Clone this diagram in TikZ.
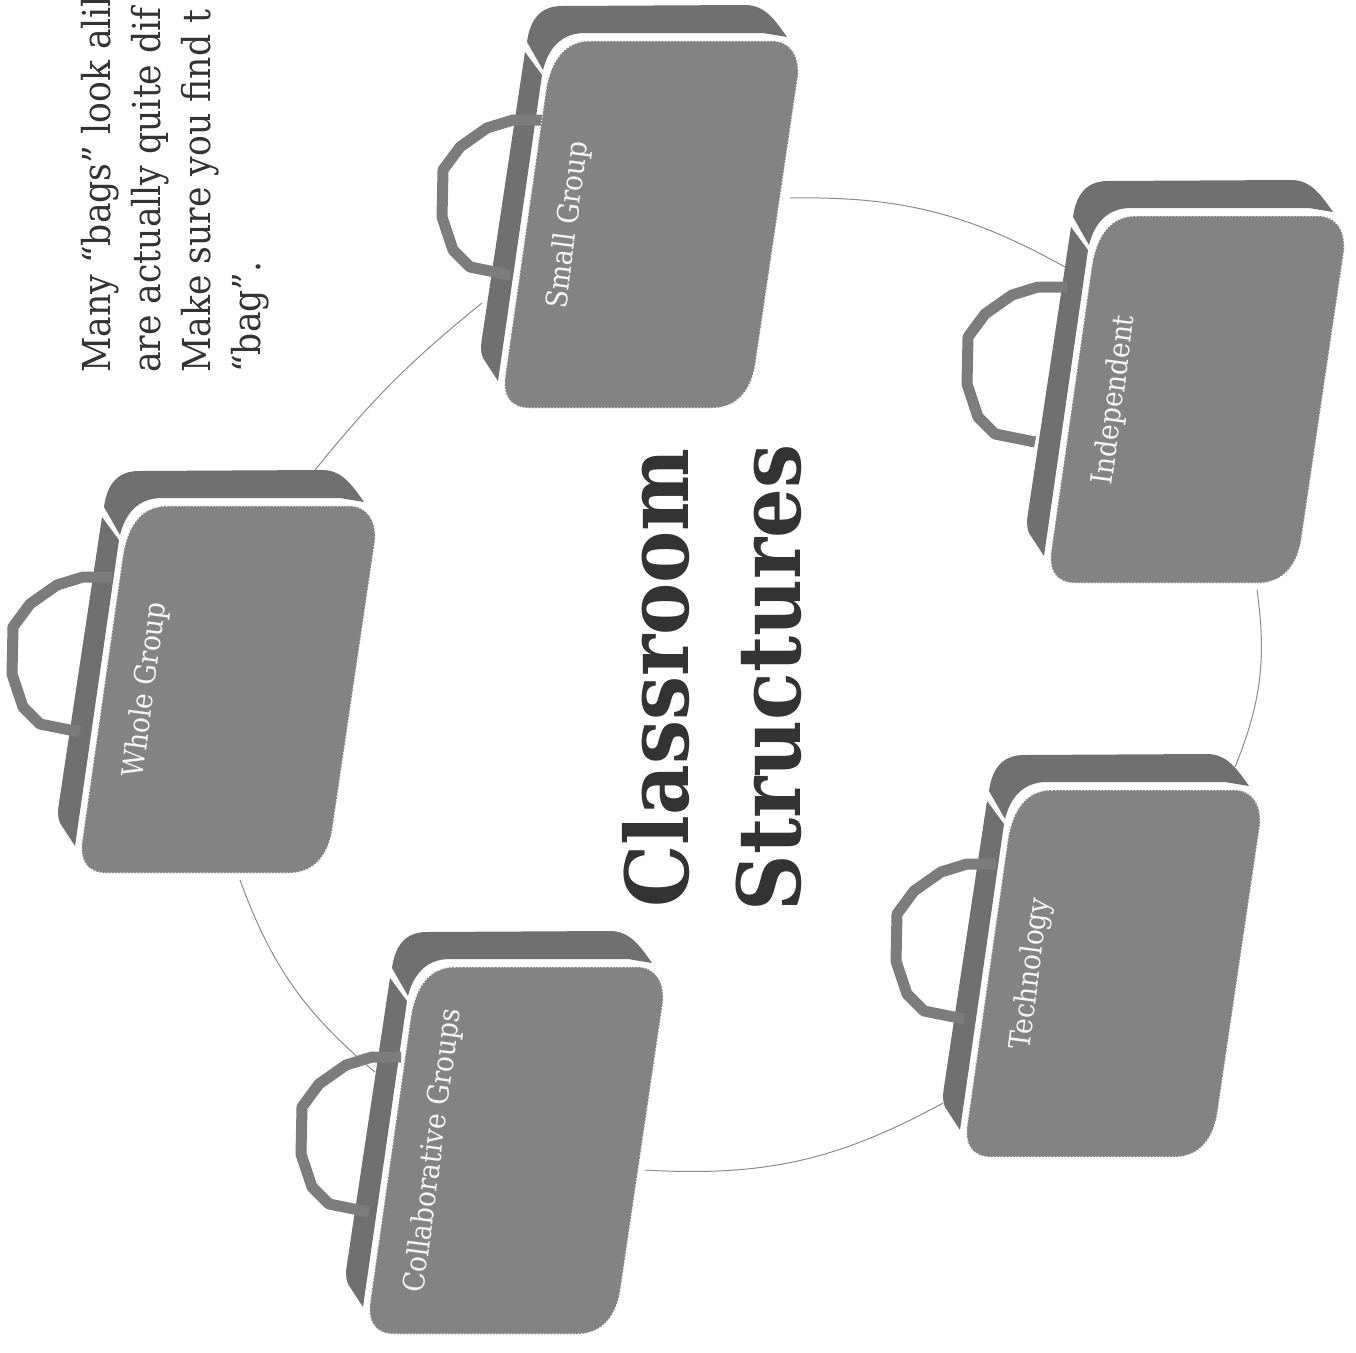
\documentclass[tikz,border=0pt]{standalone}
\usepackage{fontspec}
\setmainfont{DejaVu Serif Condensed}
\definecolor{bagbody}{HTML}{838383}
\definecolor{bagback}{HTML}{707070}
\definecolor{baghandle}{HTML}{7C7C7C}
\definecolor{inktext}{HTML}{333333}
\definecolor{ringline}{HTML}{8C8C8C}
\tikzset{
  bodyfill/.style={fill=bagbody,draw=gray!12,line width=1.2pt,dotted},
  backfill/.style={fill=bagback},
  handleline/.style={draw=baghandle,line width=11pt,line join=round},
  baglabel/.style={text=white!96!black,font=\fontsize{29.5}{29.5}\selectfont,rotate=82.5,anchor=base,inner sep=0pt},
  ring/.style={draw=ringline,line width=1pt},
  note/.style={text=inktext,font=\fontsize{38.5}{38.5}\selectfont,rotate=90,anchor=base west,inner sep=0pt},
  headline/.style={text=inktext,font=\fontsize{87}{87}\selectfont\bfseries,rotate=90,anchor=base,inner sep=0pt}
}
% #1,#2 bag shift; #3,#4 handle shift; #5 name; #6 text
\newcommand{\bagdraw}[6]{%
  \begin{scope}[shift={(#1,#2)}]
    \path[backfill] (525,52) -- (542,75) -- (498,381) -- (483,358)
      .. controls (480,350) and (481,345) .. (482,338) -- cycle;
    \path[backfill] (527,42) .. controls (530,20) and (540,6) .. (562,6)
      -- (745,5) .. controls (765,5) and (775,20) .. (787,37)
      -- (763,33) -- (585,33) .. controls (560,33) and (548,50) .. (543,70) -- cycle;
    \begin{scope}[shift={(#3,#4)}]
      \path[handleline] (542,120) -- (513,120) -- (487,128) -- (460,147) -- (443,170) -- (442,217)
        -- (453,250) -- (470,267) -- (510,275);
    \end{scope}
    \path[bodyfill] (590,41) -- (772,41) .. controls (790,41) and (799,55) .. (798,75)
      -- (755,366) .. controls (750,393) and (735,408) .. (712,408)
      -- (530,408) .. controls (512,408) and (503,398) .. (505,378)
      -- (546,90) .. controls (551,60) and (565,41) .. (590,41) -- cycle;
    \node[baglabel] (#5) at (577,226) {#6};
  \end{scope}
}
\begin{document}
\begin{tikzpicture}[x=1pt,y=-1pt]
\useasboundingbox (0,0) rectangle (1356,1352);
\clip (0,0) rectangle (1356,1352);
\fill[white] (0,0) rectangle (1356,1352);

\coordinate (r1a) at (790,198);
\coordinate (r1b) at (1065,267);
\coordinate (r2a) at (1257,590);
\coordinate (r2b) at (1235,767);
\coordinate (r3a) at (943,1103);
\coordinate (r3b) at (645,1170);
\coordinate (r4a) at (375,1072);
\coordinate (r4b) at (240,880);
\coordinate (r5a) at (315,470);
\coordinate (r5b) at (482,303);
\draw[ring] (r1a) to[bend left=15] (r1b);
\draw[ring] (r2a) to[bend left=15] (r2b);
\draw[ring] (r3a) to[bend left=16] (r3b);
\draw[ring] (r4a) to[bend left=15] (r4b);
\draw[ring] (r5a) to[bend left=6] (r5b);

\bagdraw{0}{0}{0}{0}{small}{Small Group}
\bagdraw{546}{175}{-21}{-8}{indep}{Independent}
\bagdraw{462}{749}{-8}{-5}{tech}{Technology}
\bagdraw{-135}{926}{-6}{11}{collab}{Collaborative Groups}
\bagdraw{-423}{465}{-7}{-8}{whole}{Whole Group}

\node[headline] (titleA) at (688,678) {Classroom};
\node[headline] (titleB) at (800,678) {Structures};

\node[note] (noteA) at (110,373) {Many “bags” look alik};
\node[note] (noteB) at (160,373) {are actually quite dif};
\node[note] (noteC) at (210,373) {Make sure you find t};
\node[note] (noteD) at (260,373) {“bag”.};
\end{tikzpicture}
\end{document}
